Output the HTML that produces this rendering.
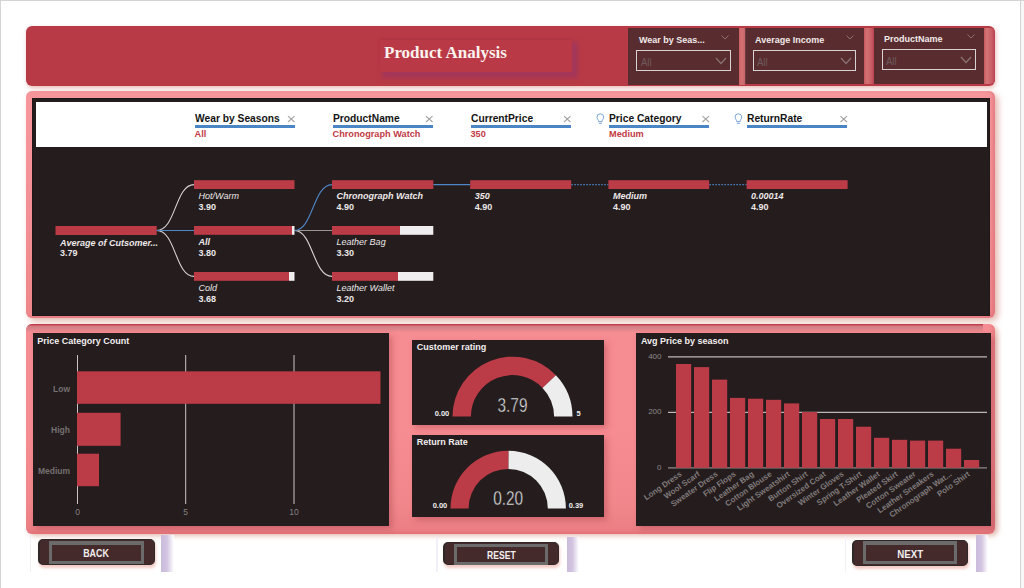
<!DOCTYPE html>
<html><head><meta charset="utf-8">
<style>
*{margin:0;padding:0;box-sizing:border-box}
html,body{width:1024px;height:588px;overflow:hidden;background:#fff;font-family:"Liberation Sans",sans-serif}
.a{position:absolute}
#frameT{left:0;top:0;width:1024px;height:1px;background:#d4d4d4}
#frameL{left:0;top:0;width:1px;height:588px;background:#d4d4d4}
#frameR{left:1020px;top:0;width:1px;height:588px;background:#d4d4d4}
#hdr{left:26px;top:26.4px;width:968.6px;height:59.6px;background:#b83a46;border-radius:6px;box-shadow:1px 2px 4px rgba(205,110,100,.45)}
#ttlbox{left:380px;top:40px;width:192px;height:32px;background:#b93a46;box-shadow:4px 4px 4px 2px #a4375a,0 -1px 2px rgba(150,35,50,.25)}
#ttl{left:384px;top:43px;font:bold 17px "Liberation Serif",serif;color:#fbf3ef;white-space:nowrap}
.slc{background:#592d2f}
.slt{font:bold 9px "Liberation Sans",sans-serif;color:#f2eaea;white-space:nowrap}
.dd{border:1.5px solid #d9d2d2}
.ddt{font:10.6px "Liberation Sans",sans-serif;color:#6e5a5c;transform-origin:0 0;transform:scaleX(.9)}
#dcon{left:26px;top:91px;width:969px;height:227px;border-radius:6px;background:linear-gradient(180deg,#f6969b 0%,#f38f94 60%,#ee868b 100%);box-shadow:3px 3px 6px rgba(215,150,135,.7),inset -3px -1px 3px rgba(205,90,100,.35)}
#ddark{left:32.3px;top:98px;width:958px;height:218.3px;background:#241c1d;border:1px solid #1d1718}
#dwhite{left:36px;top:101.5px;width:951px;height:45px;background:#fff}
.hl{font:bold 11.4px "Liberation Sans",sans-serif;color:#141414;white-space:nowrap;transform-origin:0 0;transform:scaleX(.9)}
.hu{height:3px;background:#4a85c6;width:100px}
.hv{font:bold 9.2px "Liberation Sans",sans-serif;color:#c23b45;white-space:nowrap}
#bcon{left:26px;top:324px;width:969px;height:210.3px;border-radius:6px;overflow:hidden;background:linear-gradient(180deg,#f68d92 0,#f68d92 50%,#f1878c 85%,#ea7d83 100%);box-shadow:3px 2px 5px rgba(215,150,135,.6),inset -3px -2px 3px rgba(205,90,100,.3)}
#band{left:0;top:0;width:957px;height:9px;background:linear-gradient(180deg,#c2404c 0px,#c2404c 1.4px,#d27a80 1.6px,#d8848a 4.5px,rgba(246,141,146,0) 8.5px)}
.pan{background:#241c1d;box-shadow:3px 3px 6px rgba(150,50,60,.35)}
.pt{font:bold 9px "Liberation Sans",sans-serif;color:#f2eeee;white-space:nowrap}
.btn{background:#452a2c;border-radius:5px;border:1.3px solid #2f2829;border-left-width:2.5px;box-shadow:1px 2.5px 3px rgba(235,160,150,.55)}
.bti{border:3px solid #6b6b6b;background:#452a2c}
.btt{font:bold 11px "Liberation Sans",sans-serif;color:#f4f0f0;text-align:center;white-space:nowrap}
svg text{font-family:"Liberation Sans",sans-serif}
</style></head><body>
<div class="a" style="left:1021px;top:0;width:3px;height:588px;background:#f7f7f7"></div><div id="frameT" class="a"></div><div id="frameL" class="a"></div><div id="frameR" class="a"></div>

<!-- HEADER -->
<div id="hdr" class="a"></div>
<div id="ttlbox" class="a"></div>
<div id="ttl" class="a">Product Analysis</div>

<!-- slicers -->
<div class="a" style="left:738.5px;top:28px;width:6.5px;height:56.5px;background:linear-gradient(90deg,#cc6264,#d27272 50%,#c9626a)"></div>
<div class="a" style="left:863.5px;top:28px;width:10.5px;height:56px;background:linear-gradient(90deg,#c65a60,#d37272 30%,#c85a64 75%,#b94250)"></div>
<div class="a" style="left:983.5px;top:28px;width:11.5px;height:56px;border-radius:0 5px 5px 0;background:linear-gradient(90deg,#c4585e,#d47576 25%,#c95d66 70%,#bb4150)"></div>
<div class="a slc" style="left:628px;top:28px;width:111px;height:57px"></div>
<div class="a slc" style="left:744.5px;top:28px;width:119.5px;height:56px;border-left:1.5px solid #6b3c3f"></div>
<div class="a slc" style="left:874px;top:28px;width:110px;height:56px"></div>

<div class="a slt" style="left:639px;top:34.7px">Wear by Seas...</div>
<div class="a slt" style="left:755px;top:34.7px">Average Income</div>
<div class="a slt" style="left:884px;top:33.7px">ProductName</div>

<div class="a dd" style="left:636px;top:50px;width:95px;height:21px"></div>
<div class="a dd" style="left:753px;top:50px;width:102.5px;height:21px"></div>
<div class="a dd" style="left:881.5px;top:49px;width:94.5px;height:21px"></div>
<div class="a ddt" style="left:641px;top:56px">All</div>
<div class="a ddt" style="left:757px;top:56px">All</div>
<div class="a ddt" style="left:886px;top:55px">All</div>

<svg class="a" style="left:0;top:0" width="1024" height="100" viewBox="0 0 1024 100">
 <g fill="none" stroke="#8c7072" stroke-width="1">
  <path d="M721.5 35.5 L725 39 L728.5 35.5"/>
  <path d="M846.5 35.5 L850 39 L853.5 35.5"/>
  <path d="M967.5 34.5 L971 38 L974.5 34.5"/>
 </g>
 <g fill="none" stroke="#8a7375" stroke-width="1.2">
  <path d="M716 58 L721 63.5 L726 58"/>
  <path d="M841 58 L846 63.5 L851 58"/>
  <path d="M961 57 L966 62.5 L971 57"/>
 </g>
</svg>

<!-- DECOMPOSITION TREE -->
<div id="dcon" class="a"></div>
<div id="ddark" class="a"></div>
<div id="dwhite" class="a"></div>

<div class="a hl" style="left:194.5px;top:111.7px">Wear by Seasons</div>
<div class="a hl" style="left:332.5px;top:111.7px">ProductName</div>
<div class="a hl" style="left:470.5px;top:111.7px">CurrentPrice</div>
<div class="a hl" style="left:608.8px;top:111.7px">Price Category</div>
<div class="a hl" style="left:746.5px;top:111.7px">ReturnRate</div>
<div class="a hu" style="left:194.5px;top:125px"></div>
<div class="a hu" style="left:332.5px;top:125px"></div>
<div class="a hu" style="left:470.5px;top:125px"></div>
<div class="a hu" style="left:608.5px;top:125px"></div>
<div class="a hu" style="left:746.5px;top:125px"></div>
<div class="a hv" style="left:194.5px;top:129.3px">All</div>
<div class="a hv" style="left:332.5px;top:129.3px">Chronograph Watch</div>
<div class="a hv" style="left:470.5px;top:129.3px">350</div>
<div class="a hv" style="left:609px;top:129.3px">Medium</div>

<svg class="a" style="left:0;top:0" width="1024" height="320" viewBox="0 0 1024 320">
 <!-- header X icons -->
 <g stroke="#a2a2a2" stroke-width="1.1">
  <path d="M288 116.2 L294.5 122 M294.5 116.2 L288 122"/>
  <path d="M426 116.2 L432.5 122 M432.5 116.2 L426 122"/>
  <path d="M564 116.2 L570.5 122 M570.5 116.2 L564 122"/>
  <path d="M702.5 116.2 L709 122 M709 116.2 L702.5 122"/>
  <path d="M840.5 116.2 L847 122 M847 116.2 L840.5 122"/>
 </g>
 <!-- bulbs -->
 <g fill="none" stroke="#6a9ad6" stroke-width=".9">
  <path d="M598.6 121.6 C598.6 119.8 597 118.8 597 117.1 A3.3 3.3 0 0 1 603.6 117.1 C603.6 118.8 602 119.8 602 121.6 Z M598.8 123.3 H601.8"/>
  <path d="M736.7 121.6 C736.7 119.8 735.1 118.8 735.1 117.1 A3.3 3.3 0 0 1 741.7 117.1 C741.7 118.8 740.1 119.8 740.1 121.6 Z M736.9 123.3 H739.9"/>
 </g>
 <!-- connectors -->
 <g fill="none" stroke-width="1.1">
  <path d="M156.7 230.5 C176 230.5 175 184.6 194 184.6" stroke="#d8d3d3"/>
  <path d="M156.7 230.5 C176 230.5 175 276.4 194 276.4" stroke="#d8d3d3"/>
  <path d="M156.7 230.5 L194 230.5" stroke="#4f86c6"/>
  <path d="M294.5 230.5 C313 230.5 313 276.4 332 276.4" stroke="#d8d3d3"/>
  <path d="M294.5 230.5 L332 230.5" stroke="#9a9595"/>
  <path d="M294.5 230.5 C313 230.5 313 184.6 332 184.6" stroke="#4f86c6"/>
  <path d="M433.3 184.6 L470.2 184.6" stroke="#4f86c6"/>
  <path d="M571.3 184.6 L608.4 184.6" stroke="#4f86c6" stroke-dasharray="1.5 1.5"/>
  <path d="M709.4 184.6 L746.6 184.6" stroke="#4f86c6" stroke-dasharray="1.5 1.5"/>
 </g>
 <!-- bars -->
 <g fill="#bb3b47">
  <rect x="55.5" y="226" width="101.2" height="9"/>
  <rect x="194" y="180.2" width="100.5" height="8.8"/>
  <rect x="194" y="226" width="98" height="8.8"/>
  <rect x="194" y="272" width="95" height="8.8"/>
  <rect x="332" y="180.2" width="101.3" height="8.8"/>
  <rect x="332" y="226" width="68" height="8.8"/>
  <rect x="332" y="272" width="66" height="8.8"/>
  <rect x="470.2" y="180.2" width="101" height="8.8"/>
  <rect x="608.4" y="180.2" width="100.8" height="8.8"/>
  <rect x="746.6" y="180.2" width="101" height="8.8"/>
 </g>
 <g fill="#efeded">
  <rect x="292" y="226" width="2.5" height="8.8"/>
  <rect x="289" y="272" width="5.5" height="8.8"/>
  <rect x="400" y="226" width="33.3" height="8.8"/>
  <rect x="398" y="272" width="35.3" height="8.8"/>
 </g>
 <!-- labels -->
 <g fill="#ece8e8" font-size="9px">
  <text x="60" y="246" font-weight="bold" font-style="italic">Average of Cutsomer...</text>
  <text x="60" y="255.5" font-weight="bold">3.79</text>
  <text x="198.6" y="198.6" font-style="italic">Hot/Warm</text>
  <text x="198.6" y="210" font-weight="bold">3.90</text>
  <text x="198.6" y="244.5" font-weight="bold" font-style="italic">All</text>
  <text x="198.6" y="256" font-weight="bold">3.80</text>
  <text x="198.6" y="290.5" font-style="italic">Cold</text>
  <text x="198.6" y="302" font-weight="bold">3.68</text>
  <text x="336.6" y="198.6" font-weight="bold" font-style="italic">Chronograph Watch</text>
  <text x="336.6" y="210" font-weight="bold">4.90</text>
  <text x="336.6" y="244.5" font-style="italic">Leather Bag</text>
  <text x="336.6" y="256" font-weight="bold">3.30</text>
  <text x="336.6" y="290.5" font-style="italic">Leather Wallet</text>
  <text x="336.6" y="302" font-weight="bold">3.20</text>
  <text x="474.8" y="198.8" font-weight="bold" font-style="italic">350</text>
  <text x="474.8" y="210" font-weight="bold">4.90</text>
  <text x="613" y="198.8" font-weight="bold" font-style="italic">Medium</text>
  <text x="613" y="210" font-weight="bold">4.90</text>
  <text x="751" y="198.8" font-weight="bold" font-style="italic">0.00014</text>
  <text x="751" y="210" font-weight="bold">4.90</text>
 </g>
</svg>

<!-- BOTTOM CONTAINER -->
<div id="bcon" class="a"><div id="band" class="a"></div></div>
<div class="a pan" style="left:32.7px;top:333.4px;width:356.2px;height:192.5px"></div>
<div class="a pan" style="left:412.2px;top:339.7px;width:192.2px;height:84.9px"></div>
<div class="a pan" style="left:412.2px;top:434.7px;width:192.2px;height:82.1px"></div>
<div class="a pan" style="left:636px;top:333.2px;width:354.5px;height:192.5px"></div>

<svg class="a" style="left:0;top:0" width="1024" height="588" viewBox="0 0 1024 588">
 <!-- Price category count -->
 <text x="37.3" y="343.6" font-size="9px" font-weight="bold" fill="#f2eeee">Price Category Count</text>
 <g stroke="#c9c5c5" stroke-width="1">
  <line x1="77.5" y1="355" x2="77.5" y2="504"/>
  <line x1="185.7" y1="355" x2="185.7" y2="504"/>
  <line x1="294" y1="355" x2="294" y2="504"/>
 </g>
 <g fill="#bb3b47">
  <rect x="77" y="371.3" width="303.5" height="32.5"/>
  <rect x="77" y="412.8" width="43.6" height="33"/>
  <rect x="77" y="453.7" width="22" height="32.5"/>
 </g>
 <g fill="#757070" font-size="8.5px" font-weight="bold" text-anchor="end">
  <text x="70" y="391.5">Low</text>
  <text x="70" y="432.5">High</text>
  <text x="70" y="473.5">Medium</text>
 </g>
 <g fill="#858080" font-size="8.5px" text-anchor="middle">
  <text x="77.5" y="514.5">0</text>
  <text x="185.7" y="514.5">5</text>
  <text x="294" y="514.5">10</text>
 </g>

 <!-- gauge 1 -->
 <text x="416.8" y="350.4" font-size="9px" font-weight="bold" fill="#f2eeee">Customer rating</text>
 <path d="M452.5 416.6 A60 60 0 0 1 555.9 375.2 L542.5 387.9 A41.6 41.6 0 0 0 470.9 416.6 Z" fill="#bb3b47"/>
 <path d="M555.9 375.2 A60 60 0 0 1 572.5 416.6 L554.1 416.6 A41.6 41.6 0 0 0 542.5 387.9 Z" fill="#ededed"/>
 <text x="512.5" y="412.2" font-size="20px" fill="#eaeaea" stroke="#241c1d" stroke-width=".45" text-anchor="middle" transform="translate(512.5 0) scale(.77 1) translate(-512.5 0)">3.79</text>
 <text x="442" y="416" font-size="7.5px" font-weight="bold" fill="#f0f0f0" text-anchor="middle">0.00</text>
 <text x="578.5" y="416" font-size="7.5px" font-weight="bold" fill="#f0f0f0" text-anchor="middle">5</text>

 <!-- gauge 2 -->
 <text x="416.8" y="444.8" font-size="9px" font-weight="bold" fill="#f2eeee">Return Rate</text>
 <path d="M450.5 508.4 A57.7 57.7 0 0 1 508.6 450.7 L508.5 468.9 A39.6 39.6 0 0 0 468.6 508.4 Z" fill="#bb3b47"/>
 <path d="M508.6 450.7 A57.7 57.7 0 0 1 565.9 508.4 L547.8 508.4 A39.6 39.6 0 0 0 508.5 468.9 Z" fill="#ededed"/>
 <text x="508.2" y="504.6" font-size="20px" fill="#eaeaea" stroke="#241c1d" stroke-width=".45" text-anchor="middle" transform="translate(508.2 0) scale(.77 1) translate(-508.2 0)">0.20</text>
 <text x="440" y="508" font-size="7.5px" font-weight="bold" fill="#f0f0f0" text-anchor="middle">0.00</text>
 <text x="576" y="508" font-size="7.5px" font-weight="bold" fill="#f0f0f0" text-anchor="middle">0.39</text>

 <!-- avg price by season -->
 <text x="640.9" y="344" font-size="9px" font-weight="bold" fill="#f2eeee">Avg Price by season</text>
 <g stroke="#bdb8b8" stroke-width="1.2">
  <line x1="668" y1="356.9" x2="987" y2="356.9"/>
  <line x1="668" y1="412.3" x2="987" y2="412.3"/>
  <line x1="668" y1="467.8" x2="987" y2="467.8" stroke="#8d8888"/>
 </g>
 <g fill="#8f8a8a" font-size="8px" text-anchor="end">
  <text x="661.5" y="358.9">400</text>
  <text x="661.5" y="414.3">200</text>
  <text x="661.5" y="470.2">0</text>
 </g>
 <g fill="#bb3b47">
  <rect x="676.0" y="364.0" width="15.2" height="103.8"/>
  <rect x="694.0" y="367.1" width="15.2" height="100.7"/>
  <rect x="712.0" y="379.6" width="15.2" height="88.2"/>
  <rect x="730.0" y="397.9" width="15.2" height="69.9"/>
  <rect x="748.0" y="398.7" width="15.2" height="69.1"/>
  <rect x="766.0" y="399.8" width="15.2" height="68.0"/>
  <rect x="784.0" y="403.4" width="15.2" height="64.4"/>
  <rect x="802.0" y="412.0" width="15.2" height="55.8"/>
  <rect x="820.0" y="419.0" width="15.2" height="48.8"/>
  <rect x="838.0" y="419.0" width="15.2" height="48.8"/>
  <rect x="856.0" y="426.7" width="15.2" height="41.1"/>
  <rect x="874.0" y="437.8" width="15.2" height="30.0"/>
  <rect x="892.0" y="439.8" width="15.2" height="28.0"/>
  <rect x="910.0" y="440.6" width="15.2" height="27.2"/>
  <rect x="928.0" y="440.6" width="15.2" height="27.2"/>
  <rect x="946.0" y="448.7" width="15.2" height="19.1"/>
  <rect x="964.0" y="460.0" width="15.2" height="7.8"/>
 </g>
 <g fill="#807b7b" font-size="8px" font-weight="bold" text-anchor="end">
  <text transform="translate(682.4 475.3) rotate(-35)">Long Dress</text>
  <text transform="translate(700.4 475.3) rotate(-35)">Wool Scarf</text>
  <text transform="translate(718.4 475.3) rotate(-35)">Sweater Dress</text>
  <text transform="translate(736.4 475.3) rotate(-35)">Flip Flops</text>
  <text transform="translate(754.4 475.3) rotate(-35)">Leather Bag</text>
  <text transform="translate(772.4 475.3) rotate(-35)">Cotton Blouse</text>
  <text transform="translate(790.4 475.3) rotate(-35)">Light Sweatshirt</text>
  <text transform="translate(808.4 475.3) rotate(-35)">Button Shirt</text>
  <text transform="translate(826.4 475.3) rotate(-35)">Oversized Coat</text>
  <text transform="translate(844.4 475.3) rotate(-35)">Winter Gloves</text>
  <text transform="translate(862.4 475.3) rotate(-35)">Spring T-Shirt</text>
  <text transform="translate(880.4 475.3) rotate(-35)">Leather Wallet</text>
  <text transform="translate(898.4 475.3) rotate(-35)">Pleated Skirt</text>
  <text transform="translate(916.4 475.3) rotate(-35)">Cotton Sweater</text>
  <text transform="translate(934.4 475.3) rotate(-35)">Leather Sneakers</text>
  <text transform="translate(952.4 475.3) rotate(-35)">Chronograph Wat...</text>
  <text transform="translate(970.4 475.3) rotate(-35)">Polo Shirt</text>
 </g>
</svg>

<!-- BUTTONS -->
<div class="a" style="left:29.7px;top:536px;width:1.8px;height:36px;background:#f1eff7"></div>
<div class="a" style="left:436.2px;top:537px;width:1.8px;height:35px;background:#f1eff7"></div>
<div class="a" style="left:844.5px;top:536px;width:1.8px;height:36px;background:#f1eff7"></div>
<div class="a" style="left:161px;top:535px;width:13px;height:37px;background:linear-gradient(90deg,#cbbbdc 0,#d2c4e1 45%,#ffffff 100%)"></div>
<div class="a" style="left:566.5px;top:536.5px;width:12px;height:35px;background:linear-gradient(90deg,#cbbbdc 0,#d2c4e1 45%,#ffffff 100%)"></div>
<div class="a" style="left:975.5px;top:535px;width:12px;height:37px;background:linear-gradient(90deg,#cbbbdc 0,#d2c4e1 45%,#ffffff 100%)"></div>

<div class="a btn" style="left:38.4px;top:539.3px;width:116.2px;height:25.5px"></div>
<div class="a bti" style="left:49.1px;top:540.6px;width:94.7px;height:23.2px;border-top-width:4px"></div>

<div class="a btn" style="left:443px;top:542.3px;width:116px;height:22.6px"></div>
<div class="a bti" style="left:453.8px;top:543.6px;width:94.6px;height:21px;border-top-width:3.6px"></div>

<div class="a btn" style="left:852.3px;top:539.5px;width:116.1px;height:26.5px"></div>
<div class="a bti" style="left:862.8px;top:541px;width:94.7px;height:22.8px;border-top-width:4px"></div>

<svg class="a" style="left:0;top:0" width="1024" height="588" viewBox="0 0 1024 588">
 <g fill="#f3efef" font-size="10.2px" font-weight="bold">
  <text x="83.2" y="557.3" textLength="25.7" lengthAdjust="spacingAndGlyphs">BACK</text>
  <text x="487.1" y="559.4" textLength="28.6" lengthAdjust="spacingAndGlyphs">RESET</text>
  <text x="897.3" y="557.5" textLength="25.9" lengthAdjust="spacingAndGlyphs">NEXT</text>
 </g>
</svg>

</body></html>
